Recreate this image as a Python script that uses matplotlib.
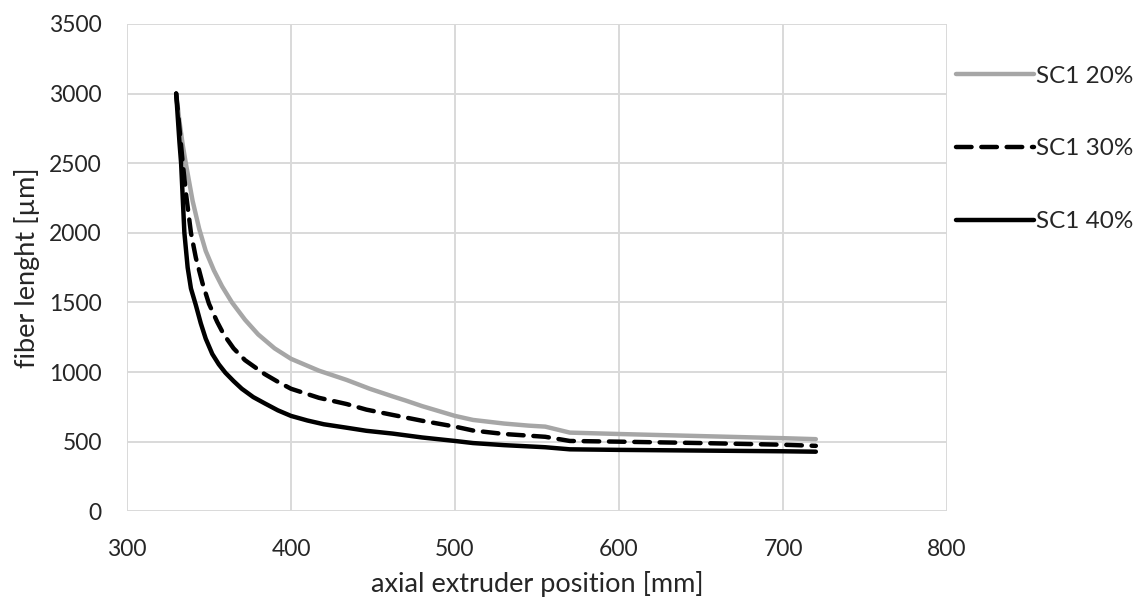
import matplotlib
matplotlib.use("Agg")
import matplotlib.pyplot as plt

plt.rcParams['font.family'] = ['Lato', 'DejaVu Sans']

# axial position [mm] and fiber length [um] for each filler content
x20 = [330, 332, 334, 336, 340, 344, 348, 353, 358, 364, 372, 380, 390, 400, 417, 434, 448, 462, 470, 480,
       500, 511, 530, 545, 555, 570, 600, 650, 700, 720]
y20 = [3000, 2800, 2630, 2490, 2230, 2030, 1870, 1730, 1615, 1500, 1375, 1270, 1170, 1095, 1010, 943, 880, 825, 795, 755,
       685, 656, 630, 615, 608, 565, 555, 540, 525, 518]

x30 = [330, 332, 334, 336, 339, 342, 346, 350, 355, 359, 365, 372, 384, 392, 400, 417, 434, 446, 462, 480,
       500, 511, 530, 555, 570, 600, 650, 700, 720]
y30 = [3000, 2750, 2500, 2280, 2000, 1820, 1640, 1490, 1360, 1270, 1170, 1085, 985, 930, 880, 815, 770, 730, 692, 650,
       608, 580, 555, 535, 505, 500, 490, 478, 470]

x40 = [330, 332, 333, 335, 337, 339, 342, 345, 348, 352, 356, 360, 365, 370, 377, 384, 392, 400, 410, 420,
       434, 446, 462, 480, 500, 511, 530, 555, 570, 600, 650, 700, 720]
y40 = [3000, 2650, 2500, 2000, 1750, 1600, 1480, 1350, 1240, 1130, 1055, 995, 935, 880, 820, 775, 725, 685, 652, 625,
       600, 578, 558, 530, 505, 490, 475, 460, 445, 441, 436, 431, 428]

labels = ['SC1 20%', 'SC1 30%', 'SC1 40%']
xticks = [300, 400, 500, 600, 700, 800]
yticks = [0, 500, 1000, 1500, 2000, 2500, 3000, 3500]

fig = plt.figure(figsize=(11.46, 5.98), dpi=100)
ax = fig.add_axes([0.1108, 0.145, 0.7156, 0.815])

l1, = ax.plot(x20, y20, color='#a6a6a6', lw=3.2, solid_capstyle='round', solid_joinstyle='round', label=labels[0])
l2, = ax.plot(x30, y30, color='black', lw=3.2, dashes=(3.5, 2.2), dash_capstyle='round', label=labels[1])
l3, = ax.plot(x40, y40, color='black', lw=3.2, solid_capstyle='round', solid_joinstyle='round', label=labels[2])

ax.set_xlim(300, 800)
ax.set_ylim(0, 3500)
ax.set_xticks(xticks)
ax.set_yticks(yticks)
ax.grid(True, color='#d9d9d9', lw=1.4)
ax.set_axisbelow(True)
for s in ax.spines.values():
    s.set_visible(False)
ax.tick_params(length=0, labelsize=16.5, colors='#262626')
ax.tick_params(axis='x', pad=20)
ax.tick_params(axis='y', pad=18)
ax.set_xlabel('axial extruder position [mm]', fontsize=19.5, color='#262626', labelpad=8)
ax.set_ylabel('fiber lenght [µm]', fontsize=19.5, color='#262626', labelpad=7)

fig.legend(handles=[l1, l2, l3], loc='center left', bbox_to_anchor=(0.815, 0.751),
           frameon=False, fontsize=17.5, handlelength=3.2, handletextpad=0.1,
           labelspacing=2.13, labelcolor='#262626')

fig.savefig('out.png', dpi=100)
